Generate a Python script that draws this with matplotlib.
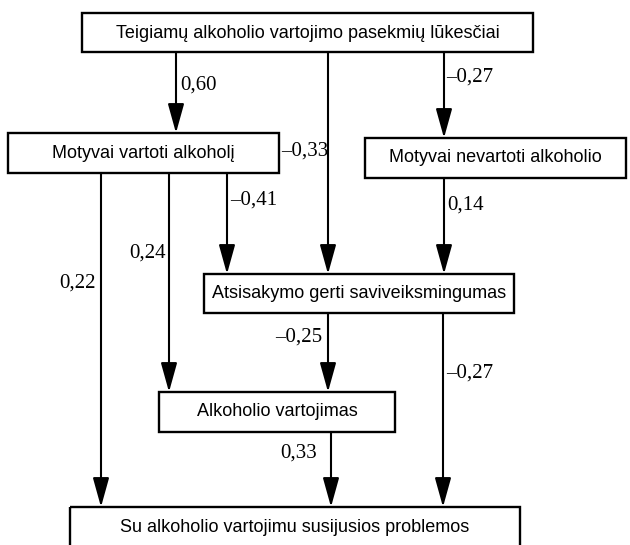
"""Path diagram: alcohol outcome expectancies model."""
import matplotlib.pyplot as plt
from matplotlib.patches import Rectangle

plt.rcParams.update({"font.family": "Liberation Sans"})

# box labels
box_labels = [
    "Teigiamų alkoholio vartojimo pasekmių lūkesčiai",
    "Motyvai vartoti alkoholį",
    "Motyvai nevartoti alkoholio",
    "Atsisakymo gerti saviveiksmingumas",
    "Alkoholio vartojimas",
    "Su alkoholio vartojimu susijusios problemos",
]
# path coefficients (source box, target box, value)
path_from = [0, 0, 0, 1, 1, 1, 2, 3, 3, 4]
path_to = [1, 2, 3, 3, 4, 5, 3, 4, 5, 5]
path_coef = ["0,60", "–0,27", "–0,33", "–0,41", "0,24", "0,22",
             "0,14", "–0,25", "–0,27", "0,33"]

# layout in pixel units: (x0, y0, x1, y1)
box_pos = [
    (82, 13, 533, 52),
    (8, 133, 279, 173),
    (365, 138, 626, 178),
    (204, 274, 514, 313),
    (159, 392, 395, 432),
    (70, 507, 520, 560),
]
text_y = [33, 154, 158, 293, 412, 528]
# arrow x positions and label positions (x, y, ha)
arrow_x = [176, 444, 328, 227, 169, 101, 444, 328, 443, 331]
label_pos = [(180, 85, "left"), (446, 77, "left"), (281, 151, "left"),
             (230, 200, "left"), (166, 253, "right"), (96, 283, "right"),
             (447, 205, "left"), (322, 337, "right"), (446, 373, "left"),
             (317, 453, "right")]

fig = plt.figure(figsize=(6.3, 5.45), dpi=100)
ax = fig.add_axes([0, 0, 1, 1])
ax.set_xlim(0, 630)
ax.set_ylim(545, 0)
ax.axis("off")

for (x0, y0, x1, y1), lab, ty in zip(box_pos, box_labels, text_y):
    ax.add_patch(Rectangle((x0, y0), x1 - x0, y1 - y0, fill=False,
                           ec="black", lw=1.7, zorder=3))
    ax.text((x0 + x1) / 2, ty, lab, ha="center", va="center", fontsize=13)

for src, dst, x, coef, (lx, ly, ha) in zip(path_from, path_to, arrow_x,
                                          path_coef, label_pos):
    y_start = box_pos[src][3]
    y_end = box_pos[dst][1]
    ax.annotate("", xy=(x, y_end), xytext=(x, y_start),
                arrowprops=dict(arrowstyle="-|>,head_length=1.8,head_width=0.5",
                                mutation_scale=10, color="black", lw=1.5,
                                shrinkA=0, shrinkB=0))
    ax.text(lx, ly, coef, ha=ha, va="center", fontsize=15,
            family="Liberation Serif")

fig.savefig("out.png", dpi=100)
